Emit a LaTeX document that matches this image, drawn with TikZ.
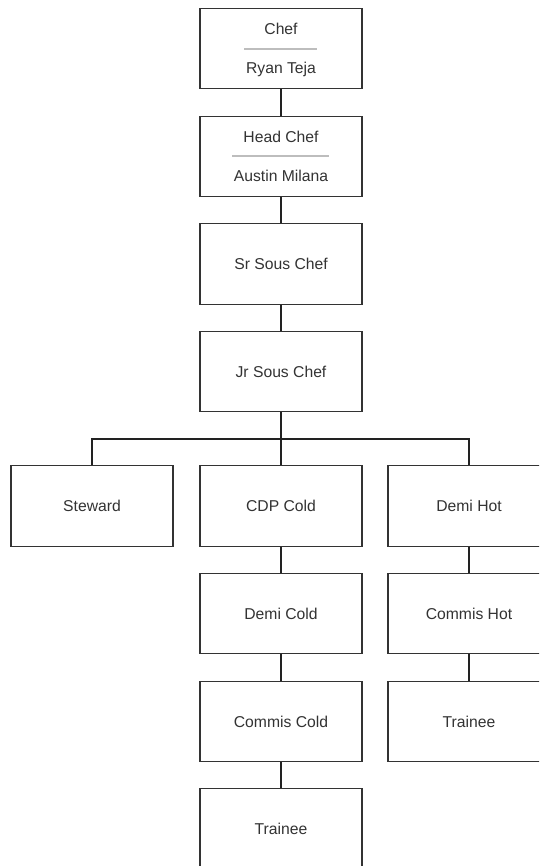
\documentclass[tikz,border=0pt]{standalone}
\usepackage{fontspec}
\setmainfont{Liberation Sans}
\definecolor{txt}{HTML}{333333}
\definecolor{edge}{HTML}{333333}
\definecolor{connc}{HTML}{222222}
\definecolor{rulegray}{HTML}{BDBDBD}
\begin{document}
\begin{tikzpicture}[x=1pt,y=-1pt,
  box/.style={draw=edge,line width=1.3pt,rectangle,minimum width=162pt,minimum height=80.5pt,inner sep=0pt,
    text=txt,font=\fontsize{15.7}{18}\selectfont},
  lbl/.style={text=txt,font=\fontsize{15.7}{18}\selectfont,inner sep=0pt},
  conn/.style={draw=connc,line width=2.8pt,line join=miter},
  sep/.style={draw=rulegray,line width=1.3pt}]
\clip (0,0) rectangle (539,866);
\fill[white] (0,0) rectangle (539,866);
% main column
\node[box] (chef) at (281,48.5) {};
\node[lbl] (chefT) at (281,29) {Chef};
\node[lbl] (chefN) at (281,69) {Ryan Teja};
\draw[sep] (244,49) -- (317,49);
\node[box] (head) at (281,156.5) {};
\node[lbl] (headT) at (281,137) {Head Chef};
\node[lbl] (headN) at (281,176) {Austin Milana};
\draw[sep] (232,156) -- (329,156);
\node[box] (sr) at (281,264) {Sr Sous Chef};
\node[box] (jr) at (281,371.5) {Jr Sous Chef};
% third tier
\node[box] (steward) at (92,506) {Steward};
\node[box] (cdp) at (281,506) {CDP Cold};
\node[box] (demihot) at (469,506) {Demi Hot};
\node[box] (demicold) at (281,613.5) {Demi Cold};
\node[box] (commiscold) at (281,721.5) {Commis Cold};
\node[box] (trainee1) at (281,828.5) {Trainee};
\node[box] (commishot) at (469,613.5) {Commis Hot};
\node[box] (trainee2) at (469,721.5) {Trainee};
% connectors
\coordinate (bus) at (281,439);
\draw[conn] (chef.south) -- (head.north);
\draw[conn] (head.south) -- (sr.north);
\draw[conn] (sr.south) -- (jr.north);
\draw[conn] (jr.south) -- (bus);
\draw[conn] (steward.north) |- (bus) -| (demihot.north);
\draw[conn] (bus) -- (cdp.north);
\draw[conn] (cdp.south) -- (demicold.north);
\draw[conn] (demicold.south) -- (commiscold.north);
\draw[conn] (commiscold.south) -- (trainee1.north);
\draw[conn] (demihot.south) -- (commishot.north);
\draw[conn] (commishot.south) -- (trainee2.north);
\end{tikzpicture}
\end{document}
